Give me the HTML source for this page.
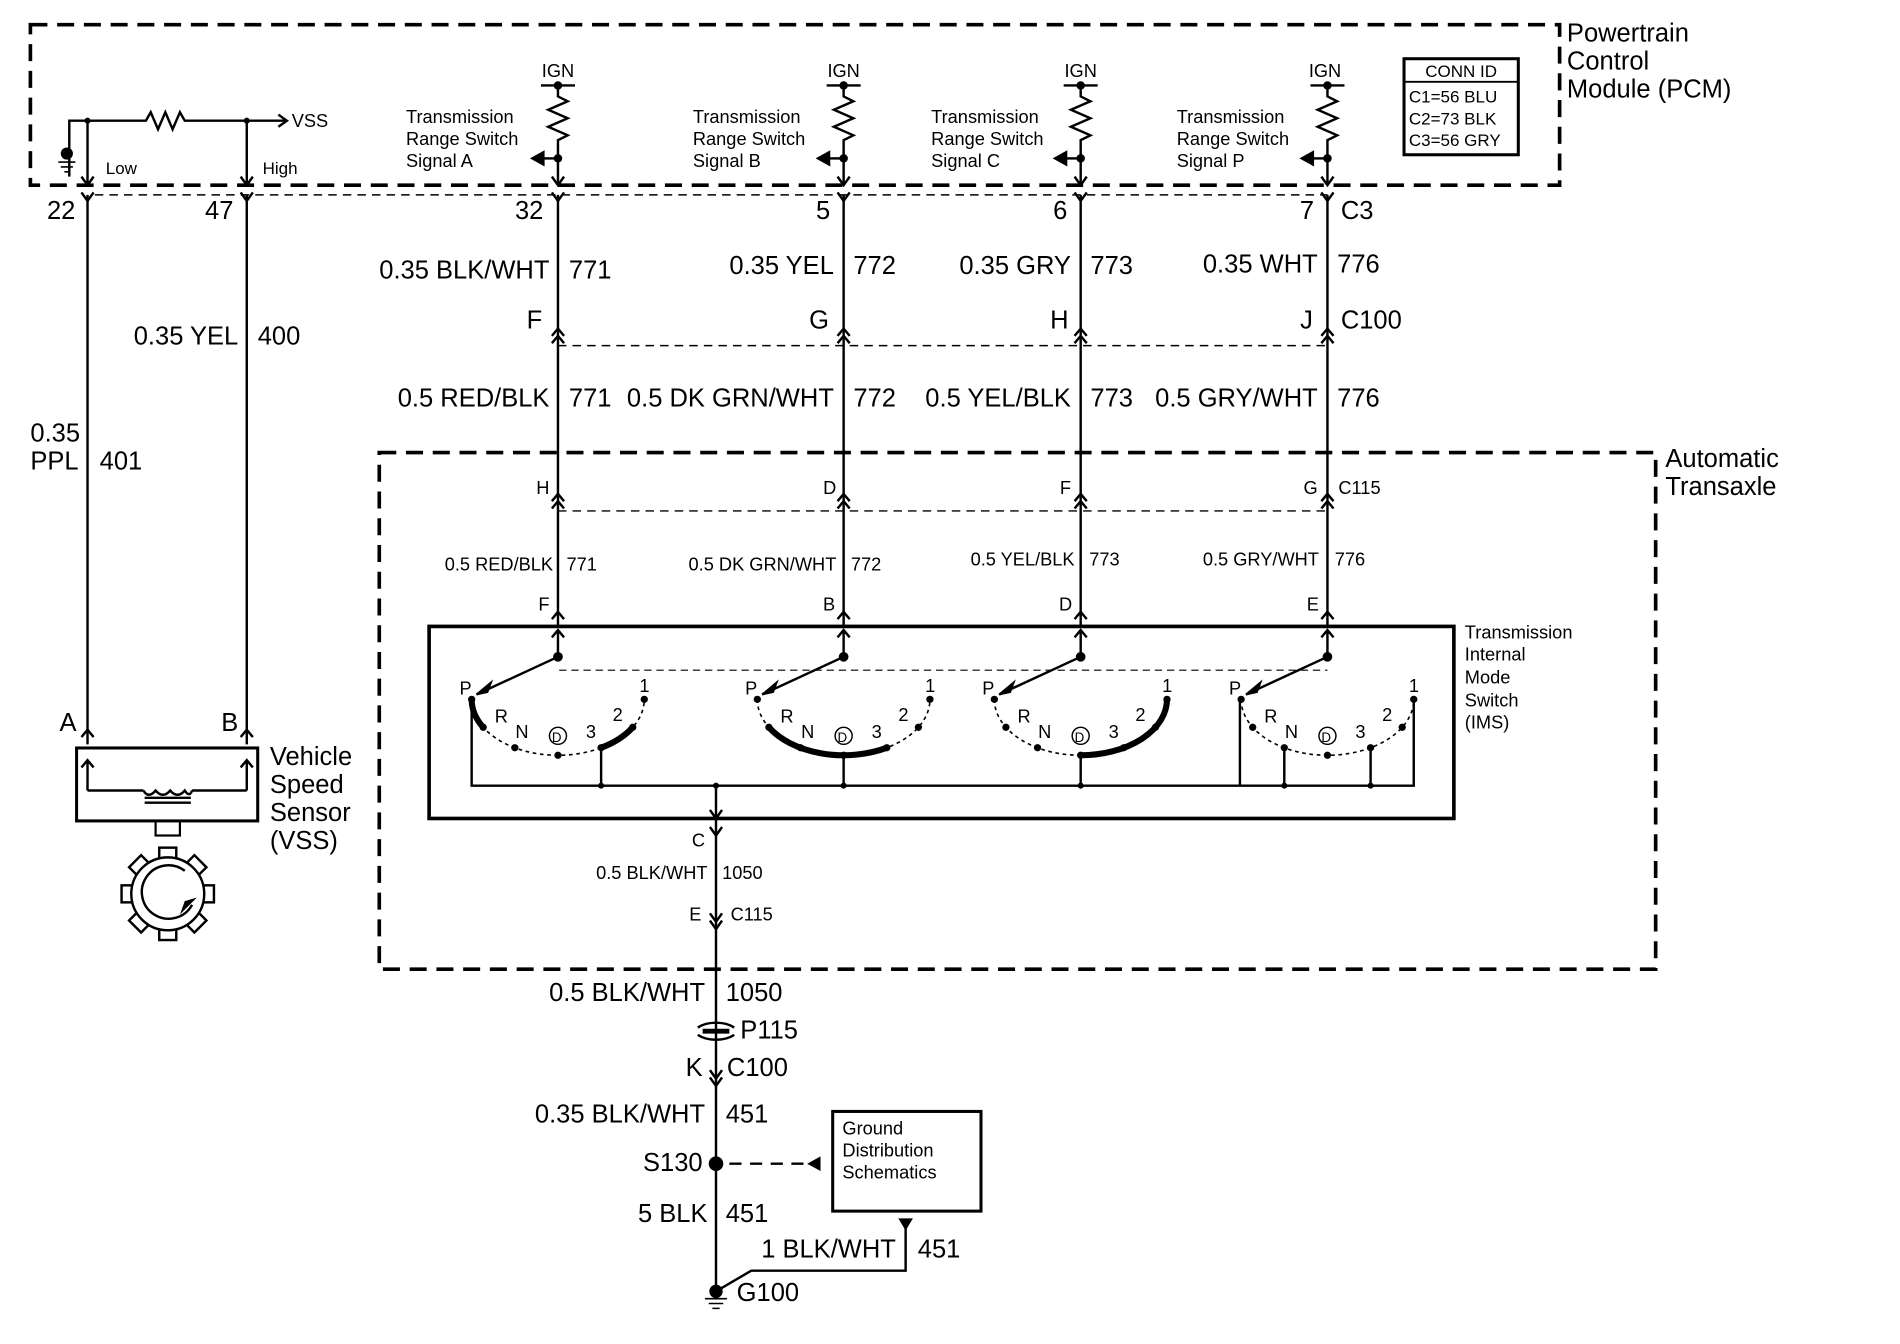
<!DOCTYPE html>
<html><head><meta charset="utf-8"><style>
html,body{margin:0;padding:0;background:#fff;}
svg{display:block;}
text{font-family:"Liberation Sans",Arial,sans-serif;fill:#000;}
.b{font-size:21px;}
.m{font-size:15px;}
.s{font-size:15px;}
.t{font-size:14px;}
</style></head><body>
<svg width="1900" height="1344" viewBox="0 0 1563 1105" xmlns="http://www.w3.org/2000/svg">
<defs>
<g id="ign" fill="none" stroke="#000" stroke-width="2">
<path d="M-14 70H14"/>
<path d="M0 70V79L8 83L-8 90L8 97L-8 104L8 111L0 115V152"/>
<path d="M0 130H-12"/>
<path d="M-12 125L-21 130L-12 135Z" fill="#000"/>
<circle cx="0" cy="70" r="2.5" fill="#000"/>
<circle cx="0" cy="130" r="2.5" fill="#000"/>
<path d="M-5 145L0 152L5 145"/>
<path d="M-5 158L0 165L5 158"/>
<path d="M0 160V515"/>
<path d="M-5 276L0 270L5 276M-5 282L0 276L5 282"/>
<path d="M-5 412L0 406L5 412M-5 418L0 412L5 418"/>
<path d="M-5 509L0 503L5 509"/>
<path d="M0 540V518M-5 524L0 518L5 524"/>
<circle cx="0" cy="540" r="3" fill="#000"/>
<path d="M0 540L-67 571"/>
<path d="M-67 571L-55 561L-58 569Z" fill="#000" stroke-width="1.5"/>
</g>
<g id="arc" fill="none" stroke="#000">
<path d="M-71 575A71 46 0 0 0 71 575" stroke-width="1.3" stroke-dasharray="3 3"/>
<g fill="#000" stroke="none">
<circle cx="-71" cy="575" r="3"/><circle cx="-61.5" cy="598" r="3"/><circle cx="-35.5" cy="614.8" r="3"/>
<circle cx="0" cy="621" r="3"/><circle cx="35.5" cy="614.8" r="3"/><circle cx="61.5" cy="598" r="3"/><circle cx="71" cy="575" r="3"/>
</g>
<circle cx="0" cy="605" r="7" stroke-width="1.2"/>
</g>
</defs>

<path d="M25 20H1283V152H25Z" fill="none" stroke="#000" stroke-width="3" stroke-dasharray="14 8"/>
<text class="b" x="1289" y="34">Powertrain</text>
<text class="b" x="1289" y="57">Control</text>
<text class="b" x="1289" y="80">Module (PCM)</text>
<rect x="1155" y="48" width="94" height="79" fill="none" stroke="#000" stroke-width="2.5"/>
<path d="M1155 67H1249" stroke="#000" stroke-width="1.5"/>
<text class="t" x="1202" y="63" text-anchor="middle">CONN ID</text>
<text class="t" x="1159" y="84">C1=56 BLU</text>
<text class="t" x="1159" y="102">C2=73 BLK</text>
<text class="t" x="1159" y="120">C3=56 GRY</text>

<g fill="none" stroke="#000" stroke-width="2">
<path d="M57 145V99H120L124 92L130 106L136 92L142 106L148 92L152 99H235"/>
<path d="M229 94L236 99L229 104"/>
<path d="M72 99V152M67 145L72 152L77 145"/>
<path d="M203 99V152M198 145L203 152L208 145"/>
<path d="M67 158L72 165L77 158M198 158L203 165L208 158"/>
<path d="M72 160V612M203 160V612"/>
<path d="M67 606L72 600L77 606M198 606L203 600L208 606"/>
<path d="M48 133H62M50 137H60M53 141H57" stroke-width="1.3"/>
</g>
<circle cx="55" cy="126" r="5" fill="#000"/>
<circle cx="72" cy="99" r="2.5"/><circle cx="203" cy="99" r="2.5"/>
<text class="m" x="240" y="104">VSS</text>
<text class="t" x="87" y="143">Low</text>
<text class="t" x="216" y="143">High</text>

<path d="M78 160H1092" stroke="#000" stroke-width="1.2" stroke-dasharray="7 5"/>
<path d="M459 284H1092M459 420H1092" stroke="#000" stroke-width="1.2" stroke-dasharray="7 5"/>

<use href="#ign" x="459"/><use href="#ign" x="694"/><use href="#ign" x="889"/><use href="#ign" x="1092"/>

<g class="m">
<text x="459" y="63" text-anchor="middle">IGN</text>
<text x="694" y="63" text-anchor="middle">IGN</text>
<text x="889" y="63" text-anchor="middle">IGN</text>
<text x="1090" y="63" text-anchor="middle">IGN</text>
<text x="334" y="101">Transmission</text><text x="334" y="119">Range Switch</text><text x="334" y="137">Signal A</text>
<text x="570" y="101">Transmission</text><text x="570" y="119">Range Switch</text><text x="570" y="137">Signal B</text>
<text x="766" y="101">Transmission</text><text x="766" y="119">Range Switch</text><text x="766" y="137">Signal C</text>
<text x="968" y="101">Transmission</text><text x="968" y="119">Range Switch</text><text x="968" y="137">Signal P</text>
</g>

<g class="b">
<text x="62" y="180" text-anchor="end">22</text>
<text x="192" y="180" text-anchor="end">47</text>
<text x="447" y="180" text-anchor="end">32</text>
<text x="683" y="180" text-anchor="end">5</text>
<text x="878" y="180" text-anchor="end">6</text>
<text x="1081" y="180" text-anchor="end">7</text>
<text x="1103" y="180">C3</text>
<text x="452" y="229" text-anchor="end">0.35 BLK/WHT</text><text x="468" y="229">771</text>
<text x="686" y="225" text-anchor="end">0.35 YEL</text><text x="702" y="225">772</text>
<text x="881" y="225" text-anchor="end">0.35 GRY</text><text x="897" y="225">773</text>
<text x="1084" y="224" text-anchor="end">0.35 WHT</text><text x="1100" y="224">776</text>
<text x="446" y="270" text-anchor="end">F</text>
<text x="682" y="270" text-anchor="end">G</text>
<text x="879" y="270" text-anchor="end">H</text>
<text x="1080" y="270" text-anchor="end">J</text>
<text x="1103" y="270">C100</text>
<text x="452" y="334" text-anchor="end">0.5 RED/BLK</text><text x="468" y="334">771</text>
<text x="686" y="334" text-anchor="end">0.5 DK GRN/WHT</text><text x="702" y="334">772</text>
<text x="881" y="334" text-anchor="end">0.5 YEL/BLK</text><text x="897" y="334">773</text>
<text x="1084" y="334" text-anchor="end">0.5 GRY/WHT</text><text x="1100" y="334">776</text>
<text x="196" y="283" text-anchor="end">0.35 YEL</text><text x="212" y="283">400</text>
<text x="25" y="363">0.35</text><text x="25" y="386">PPL</text><text x="82" y="386">401</text>
<text x="63" y="601" text-anchor="end">A</text><text x="196" y="601" text-anchor="end">B</text>
<text x="222" y="629">Vehicle</text><text x="222" y="652">Speed</text><text x="222" y="675">Sensor</text><text x="222" y="698">(VSS)</text>
<text x="1370" y="384">Automatic</text><text x="1370" y="407">Transaxle</text>
</g>

<path d="M312 372H1362V797H312Z" fill="none" stroke="#000" stroke-width="3" stroke-dasharray="14 8"/>

<g class="s">
<text x="452" y="406" text-anchor="end">H</text>
<text x="688" y="406" text-anchor="end">D</text>
<text x="881" y="406" text-anchor="end">F</text>
<text x="1084" y="406" text-anchor="end">G</text>
<text x="1101" y="406">C115</text>
<text x="455" y="469" text-anchor="end">0.5 RED/BLK</text><text x="466" y="469">771</text>
<text x="688" y="469" text-anchor="end">0.5 DK GRN/WHT</text><text x="700" y="469">772</text>
<text x="884" y="465" text-anchor="end">0.5 YEL/BLK</text><text x="896" y="465">773</text>
<text x="1085" y="465" text-anchor="end">0.5 GRY/WHT</text><text x="1098" y="465">776</text>
<text x="452" y="502" text-anchor="end">F</text>
<text x="687" y="502" text-anchor="end">B</text>
<text x="882" y="502" text-anchor="end">D</text>
<text x="1085" y="502" text-anchor="end">E</text>
<text x="1205" y="525">Transmission</text><text x="1205" y="543">Internal</text><text x="1205" y="562">Mode</text><text x="1205" y="581">Switch</text><text x="1205" y="599">(IMS)</text>
</g>

<rect x="353" y="515" width="843" height="158" fill="none" stroke="#000" stroke-width="3"/>
<path d="M460 551H1092" stroke="#000" stroke-width="1" stroke-dasharray="6 4"/>
<use href="#arc" x="459"/><use href="#arc" x="694"/><use href="#arc" x="889"/><use href="#arc" x="1092"/>
<g fill="none" stroke="#000" stroke-width="5" stroke-linecap="round">
<path d="M388 575A71 46 0 0 0 397.5 598"/>
<path d="M494.5 614.8A71 46 0 0 0 520.5 598"/>
<path d="M632.5 598A71 46 0 0 0 729.5 614.8"/>
<path d="M889 621A71 46 0 0 0 960 575"/>
</g>
<g fill="none" stroke="#000" stroke-width="2">
<path d="M388 575V646H1163V575"/>
<path d="M494.5 614.8V646M694 621V646M889 621V646M1020 575V646M1056.5 614.8V646M1127.5 614.8V646"/>
<path d="M589 646V1060"/>
<path d="M584 666L589 673L594 666"/>
<path d="M584 680L589 687L594 680"/>
<path d="M584 751L589 758L594 751M584 757L589 764L594 757"/>
<path d="M584 880L589 887L594 880M584 886L589 893L594 886"/>
</g>
<g fill="#000">
<circle cx="494.5" cy="646" r="2.5"/><circle cx="589" cy="646" r="2.5"/><circle cx="694" cy="646" r="2.5"/><circle cx="889" cy="646" r="2.5"/>
<circle cx="1056.5" cy="646" r="2.5"/><circle cx="1127.5" cy="646" r="2.5"/>
</g>
<g class="s">
<text x="378" y="571">P</text><text x="407" y="594">R</text><text x="424" y="607">N</text><text x="454" y="610" font-size="11">D</text><text x="482" y="607">3</text><text x="504" y="593">2</text><text x="526" y="569">1</text>
<text x="613" y="571">P</text><text x="642" y="594">R</text><text x="659" y="607">N</text><text x="689" y="610" font-size="11">D</text><text x="717" y="607">3</text><text x="739" y="593">2</text><text x="761" y="569">1</text>
<text x="808" y="571">P</text><text x="837" y="594">R</text><text x="854" y="607">N</text><text x="884" y="610" font-size="11">D</text><text x="912" y="607">3</text><text x="934" y="593">2</text><text x="956" y="569">1</text>
<text x="1011" y="571">P</text><text x="1040" y="594">R</text><text x="1057" y="607">N</text><text x="1087" y="610" font-size="11">D</text><text x="1115" y="607">3</text><text x="1137" y="593">2</text><text x="1159" y="569">1</text>
<text x="580" y="696" text-anchor="end">C</text>
<text x="582" y="723" text-anchor="end">0.5 BLK/WHT</text><text x="594" y="723">1050</text>
<text x="577" y="757" text-anchor="end">E</text><text x="601" y="757">C115</text>
</g>

<g class="b">
<text x="580" y="823" text-anchor="end">0.5 BLK/WHT</text><text x="597" y="823">1050</text>
<text x="609" y="854">P115</text>
<text x="578" y="885" text-anchor="end">K</text><text x="598" y="885">C100</text>
<text x="580" y="923" text-anchor="end">0.35 BLK/WHT</text><text x="597" y="923">451</text>
<text x="578" y="963" text-anchor="end">S130</text>
<text x="582" y="1005" text-anchor="end">5 BLK</text><text x="597" y="1005">451</text>
<text x="737" y="1034" text-anchor="end">1 BLK/WHT</text><text x="755" y="1034">451</text>
<text x="606" y="1070">G100</text>
</g>
<g fill="none" stroke="#000" stroke-width="2">
<path d="M578 847H600M578 849H600"/>
<path d="M574 845Q580 841 589 841Q598 841 604 845M574 851Q580 855 589 855Q598 855 604 851"/>
<path d="M600 957H665" stroke-dasharray="10 7"/>
<rect x="685" y="914" width="122" height="82" stroke-width="2.5"/>
<path d="M745 1006V1045H618L589 1062"/>
<path d="M580 1068H598M583 1072H595M586 1076H592" stroke-width="1.3"/>
</g>
<path d="M664 951L675 957L664 963Z" transform="rotate(180 669.5 957)" fill="#000"/>
<path d="M739 1002H751L745 1012Z" fill="#000"/>
<circle cx="589" cy="957" r="6" fill="#000"/>
<circle cx="589" cy="1062" r="5.5" fill="#000"/>
<g class="m">
<text x="693" y="933">Ground</text><text x="693" y="951">Distribution</text><text x="693" y="969">Schematics</text>
</g>

<g fill="none" stroke="#000" stroke-width="2">
<rect x="63" y="615" width="149" height="60" stroke-width="2.5"/>
<path d="M72 650V625M67 631L72 625L77 631"/>
<path d="M203 650V625M198 631L203 625L208 631"/>
<path d="M72 650H118M158 650H203"/>
<path d="M118 650Q122 657 128 650Q134 657 140 650Q146 657 152 650Q156 656 158 650"/>
<path d="M119 656H157M119 660H157"/>
<rect x="128" y="675" width="20" height="12" stroke-width="1.8"/>
</g>
<g fill="#fff" stroke="#000" stroke-width="2">
<rect x="131" y="697" width="14" height="10" transform="rotate(0 138 735)"/>
<rect x="131" y="697" width="14" height="10" transform="rotate(45 138 735)"/>
<rect x="131" y="697" width="14" height="10" transform="rotate(90 138 735)"/>
<rect x="131" y="697" width="14" height="10" transform="rotate(135 138 735)"/>
<rect x="131" y="697" width="14" height="10" transform="rotate(180 138 735)"/>
<rect x="131" y="697" width="14" height="10" transform="rotate(225 138 735)"/>
<rect x="131" y="697" width="14" height="10" transform="rotate(270 138 735)"/>
<rect x="131" y="697" width="14" height="10" transform="rotate(315 138 735)"/>
<circle cx="138" cy="735" r="30"/>
</g>
<path d="M152 716A22 22 0 1 0 158 744" fill="none" stroke="#000" stroke-width="2"/>
<path d="M162 738L148 752L152 741Z" fill="#000"/>
</svg>
</body></html>
